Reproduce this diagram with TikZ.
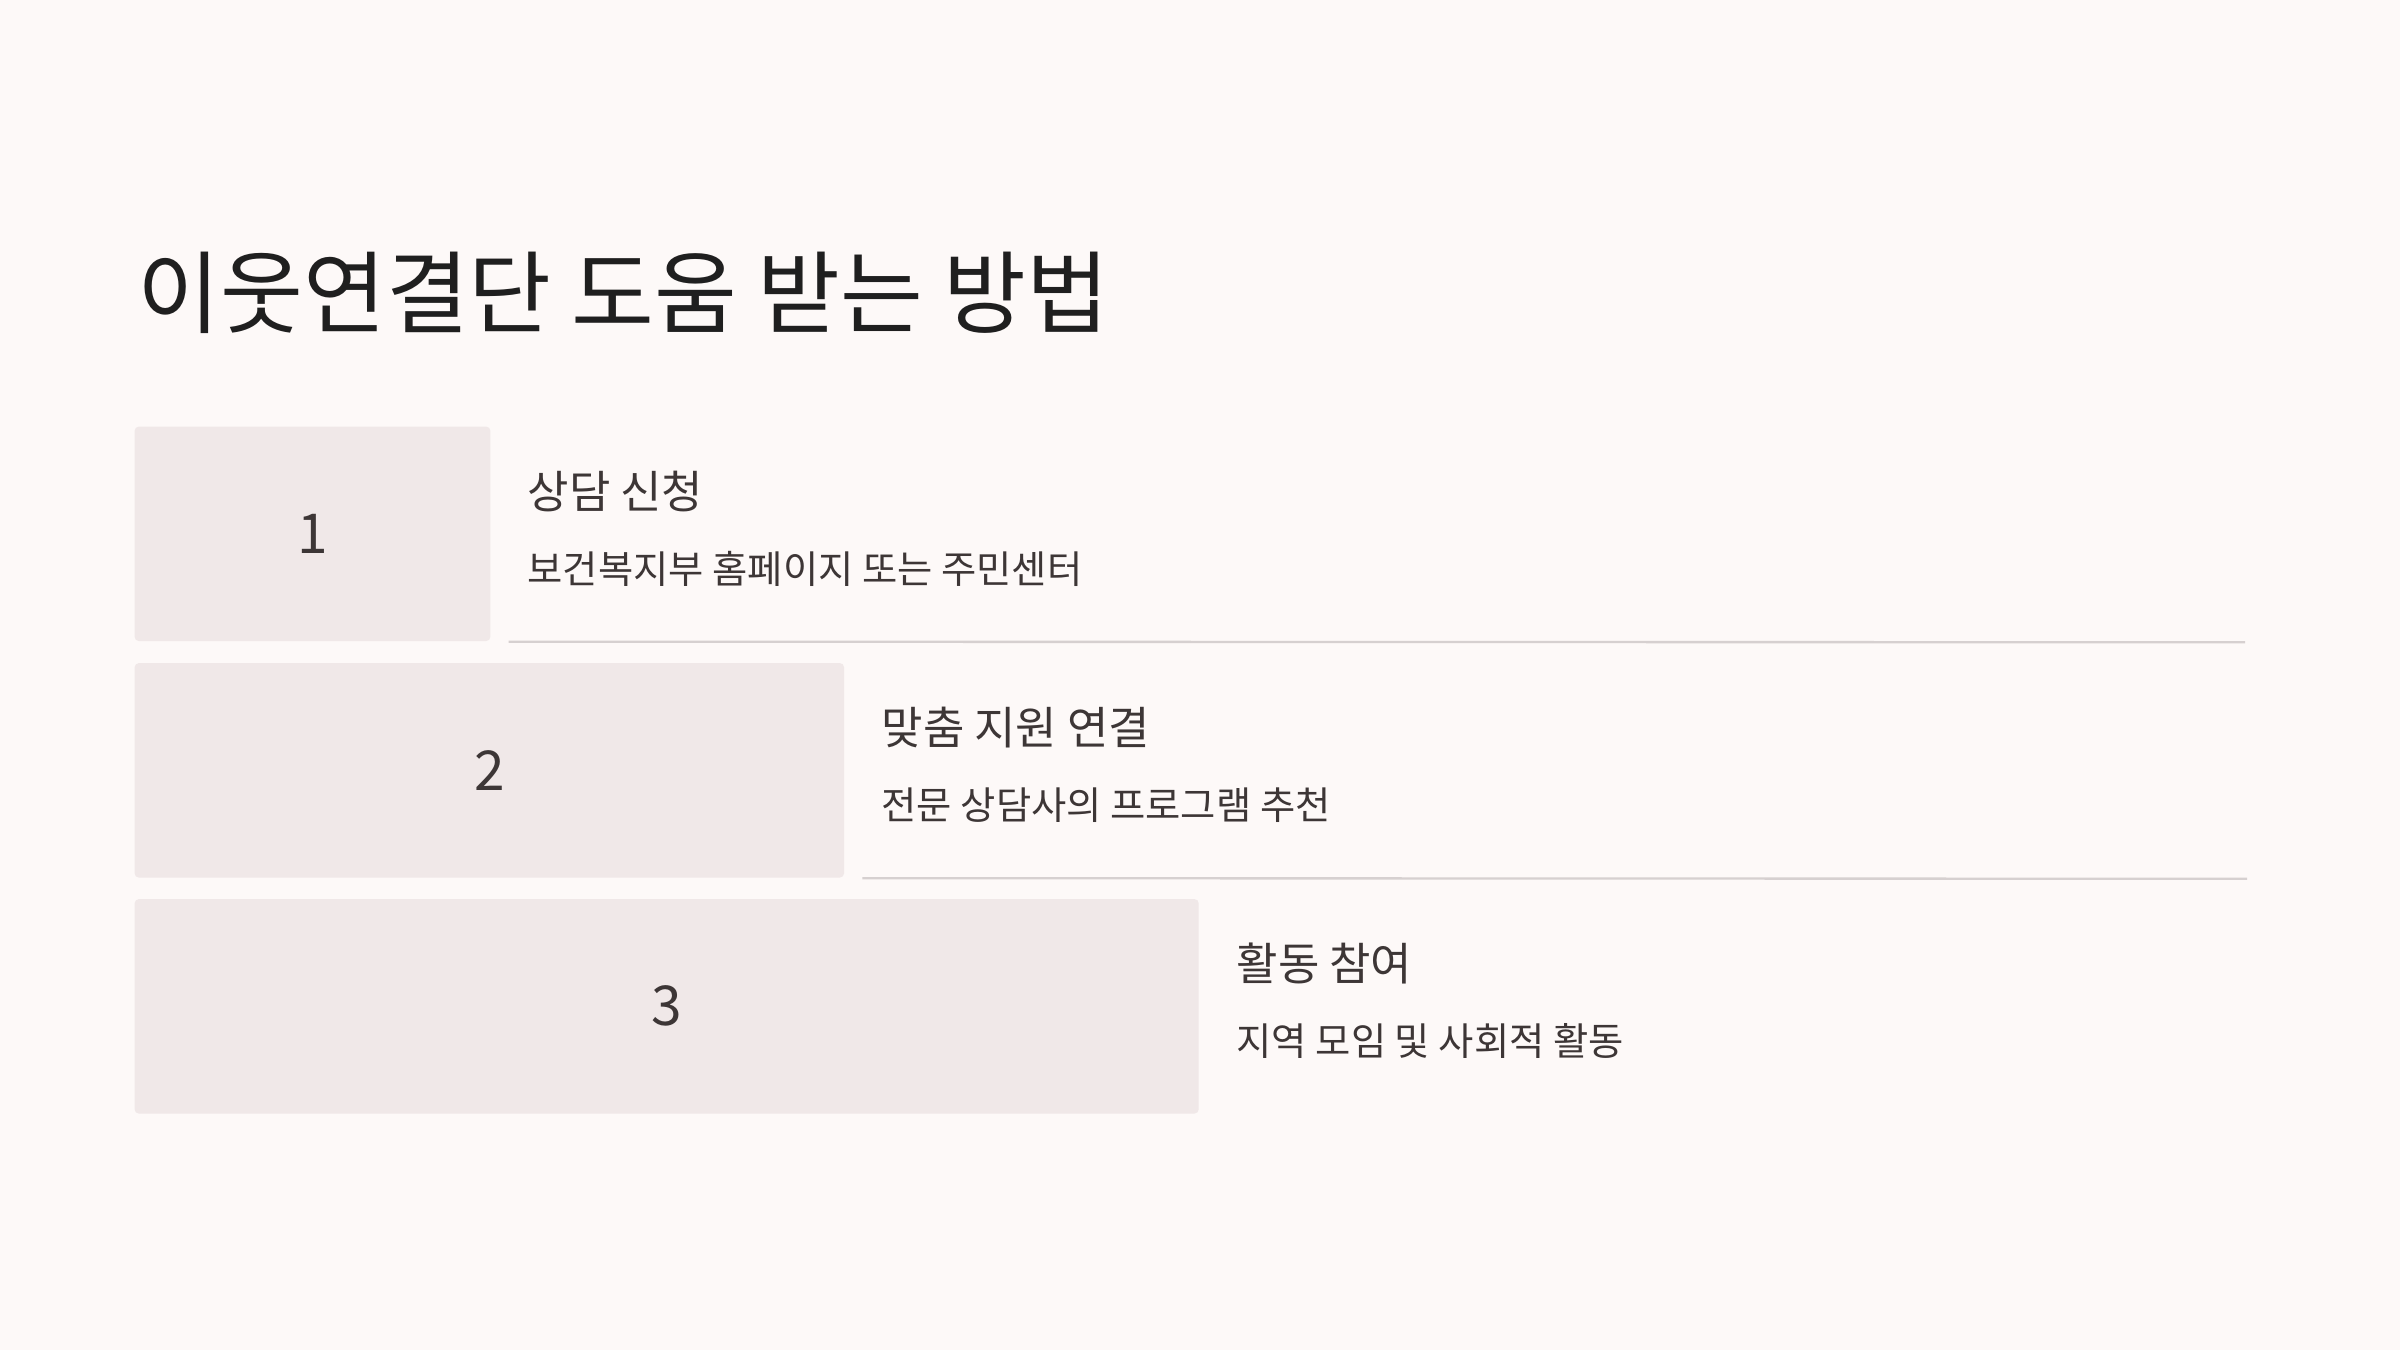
\documentclass[tikz,border=0pt]{standalone}
\usepackage{fontspec}
\setmainfont{Noto Sans CJK KR}
\definecolor{pagebg}{RGB}{253,249,248}
\definecolor{boxbg}{RGB}{240,232,232}
\definecolor{maintext}{RGB}{31,31,31}
\definecolor{bodytext}{RGB}{61,54,54}
\definecolor{rulegray}{RGB}{214,208,208}
\tikzset{
  stepbox/.style={fill=boxbg, rounded corners=1.2pt, inner sep=0pt, anchor=north west,
    minimum height=64.3pt, text=bodytext, font=\fontsize{16.5}{20}\selectfont},
  steptitle/.style={anchor=base west, inner sep=0pt, text=bodytext, font=\fontsize{13.5}{16}\selectfont},
  stepdesc/.style={anchor=base west, inner sep=0pt, text=bodytext, font=\fontsize{11.5}{14}\selectfont},
  sepline/.style={draw=rulegray, line width=0.7pt}
}
\begin{document}
\begin{tikzpicture}[x=0.3pt,y=0.3pt,yscale=-1,xscale=1]
                \fill [pagebg] (0,0) rectangle (2400,1350) ;
                \node [anchor=base west, inner sep=0pt, text=maintext, font=\fontsize{27}{32}\selectfont] (title) at (137,326) {이웃연결단 도움 받는 방법};
                % step 1
                \node [stepbox, minimum width=106.7pt] (box1) at (134,426) {1};
                \node [steptitle] (title1) at (527,508) {상담 신청};
                \node [stepdesc] (desc1) at (527,583) {보건복지부 홈페이지 또는 주민센터};
                \draw [sepline] ([xshift=5.3pt]box1.south east) -- (2245,642.3) ;
                % step 2
                \node [stepbox, minimum width=212.8pt] (box2) at (134,662.5) {2};
                \node [steptitle] (title2) at (881,744.5) {맞춤 지원 연결};
                \node [stepdesc] (desc2) at (881,819.5) {전문 상담사의 프로그램 추천};
                \draw [sepline] ([xshift=5.3pt]box2.south east) -- (2247,878.8) ;
                % step 3
                \node [stepbox, minimum width=319.2pt] (box3) at (134,898.5) {3};
                \node [steptitle] (title3) at (1236,980.5) {활동 참여};
                \node [stepdesc] (desc3) at (1236,1055.5) {지역 모임 및 사회적 활동};
            \end{tikzpicture}
\end{document}
